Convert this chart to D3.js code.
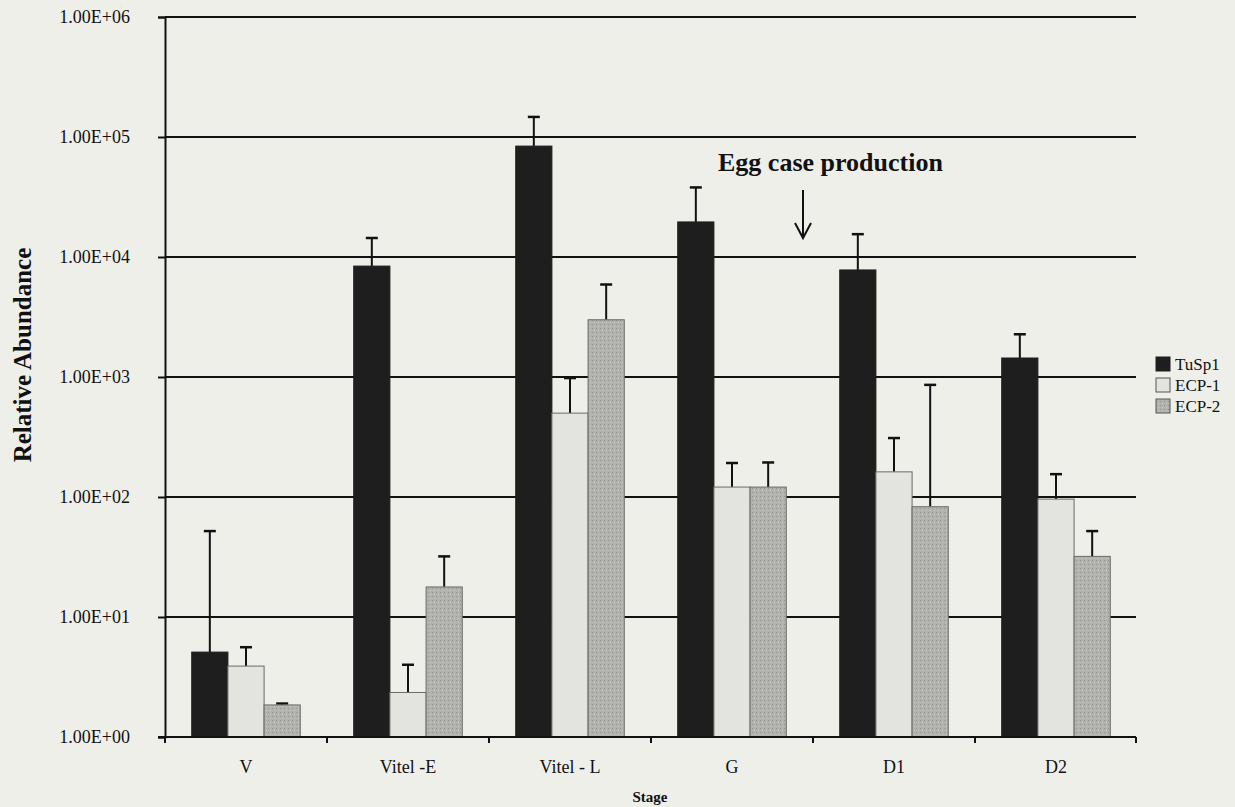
<!DOCTYPE html>
<meta charset="utf-8">
<title>Relative Abundance</title>
<style>
  body { margin: 0; background: #efefea; }
  svg { display: block; }
  text { font-family: "Liberation Serif", "Times New Roman", serif; fill: #111; }
</style>
<script src="https://d3js.org/d3.v7.min.js"></script>
<div id="chart"></div>
<script>
// stages along the x axis
var stages = ["V", "Vitel -E", "Vitel - L", "G", "D1", "D2"];
var seriesNames = ["TuSp1", "ECP-1", "ECP-2"];
// bar heights
var tusp1 = [5.1, 8400, 84000, 19600, 7800, 1440];
var ecp1 = [3.9, 2.35, 500, 121, 162, 96];
var ecp2 = [1.85, 17.8, 3000, 121, 83, 32];
// top of each error bar
var tusp1Err = [52, 14400, 147000, 38000, 15500, 2270];
var ecp1Err = [5.6, 4.0, 980, 192, 310, 155];
var ecp2Err = [1.9, 32, 5900, 194, 860, 52];
var yTicks = [1, 10, 100, 1000, 10000, 100000, 1000000];
var yTickLabels = ["1.00E+00", "1.00E+01", "1.00E+02", "1.00E+03", "1.00E+04", "1.00E+05", "1.00E+06"];

var colors = ["#1e1e1e", "#e3e3e0", "#b2b2ae"];

var W = 1235, H = 807;
var margin = {top: 17, right: 100, bottom: 70, left: 165};

var svg = d3.select("#chart").append("svg")
  .attr("width", W)
  .attr("height", H);

// stipple pattern for the ECP-2 bars
var defs = svg.append("defs");
var pat = defs.append("pattern")
  .attr("id", "stip")
  .attr("width", 4).attr("height", 4)
  .attr("patternUnits", "userSpaceOnUse");
pat.append("rect").attr("width", 4).attr("height", 4).attr("fill", colors[2]);
pat.append("rect").attr("x", 0).attr("y", 0).attr("width", 1).attr("height", 1).attr("fill", "#94948f");
pat.append("rect").attr("x", 2).attr("y", 2).attr("width", 1).attr("height", 1).attr("fill", "#c8c8c4");

var x = d3.scaleBand()
  .domain(stages)
  .range([margin.left, 1137])
  .paddingInner(0.33)
  .paddingOuter(0.165);

var xSub = d3.scaleBand()
  .domain(seriesNames)
  .range([0, x.bandwidth()]);

var y = d3.scaleLog()
  .domain([1, 1000000])
  .range([737, 17]);

// gridlines
svg.append("g")
  .selectAll("line")
  .data(yTicks.slice(1))
  .enter()
  .append("line")
    .attr("x1", margin.left)
    .attr("x2", 1136)
    .attr("y1", function(d) { return y(d); })
    .attr("y2", function(d) { return y(d); })
    .attr("stroke", "#111")
    .attr("stroke-width", 2);

// y axis
var yAxis = svg.append("g")
  .attr("transform", "translate(" + margin.left + ",0)")
  .call(d3.axisLeft(y)
    .tickValues(yTicks)
    .tickFormat(function(d, i) { return yTickLabels[i]; })
    .tickSize(7)
    .tickPadding(28));
yAxis.select(".domain").attr("stroke", "#111").attr("stroke-width", 2);
yAxis.selectAll(".tick line").attr("stroke", "#111").attr("stroke-width", 2)
  .attr("x2", -7).attr("x1", 1);
yAxis.selectAll("text")
  .style("font-size", "18px")
  .style("font-family", "Liberation Serif, serif")
  .attr("fill", "#111");

// bars
var series = [
  {name: seriesNames[0], vals: tusp1, err: tusp1Err},
  {name: seriesNames[1], vals: ecp1, err: ecp1Err},
  {name: seriesNames[2], vals: ecp2, err: ecp2Err}
];

series.forEach(function(s, si) {
  var g = svg.append("g");
  var rows = stages.map(function(st, i) { return {stage: st, v: s.vals[i], e: s.err[i]}; });

  // error bars first, upward only
  g.selectAll("line.err")
    .data(rows)
    .enter()
    .append("line")
      .attr("x1", function(d) { return x(d.stage) + xSub(s.name) + xSub.bandwidth() / 2; })
      .attr("x2", function(d) { return x(d.stage) + xSub(s.name) + xSub.bandwidth() / 2; })
      .attr("y1", function(d) { return y(d.v); })
      .attr("y2", function(d) { return y(d.e); })
      .attr("stroke", "#111")
      .attr("stroke-width", 2);
  g.selectAll("line.cap")
    .data(rows)
    .enter()
    .append("line")
      .attr("x1", function(d) { return x(d.stage) + xSub(s.name) + xSub.bandwidth() / 2 - 6; })
      .attr("x2", function(d) { return x(d.stage) + xSub(s.name) + xSub.bandwidth() / 2 + 6; })
      .attr("y1", function(d) { return y(d.e); })
      .attr("y2", function(d) { return y(d.e); })
      .attr("stroke", "#111")
      .attr("stroke-width", 2.5);

  g.selectAll("rect")
    .data(rows)
    .enter()
    .append("rect")
      .attr("x", function(d) { return x(d.stage) + xSub(s.name); })
      .attr("width", xSub.bandwidth())
      .attr("y", function(d) { return y(d.v); })
      .attr("height", function(d) { return y(1) - y(d.v); })
      .attr("fill", si == 2 ? "url(#stip)" : colors[si])
      .attr("stroke", si == 0 ? "#1e1e1e" : "#6a6a66")
      .attr("stroke-width", 1);
});

// x axis
var xAxis = svg.append("g")
  .attr("transform", "translate(0,737)");
xAxis.append("line")
  .attr("x1", margin.left - 7).attr("x2", 1136)
  .attr("y1", 0).attr("y2", 0)
  .attr("stroke", "#111").attr("stroke-width", 2);
var bounds = stages.map(function(d) { return x(d) - x.step() * x.paddingInner() / 2; });
bounds.push(1136);
xAxis.selectAll("line.tk")
  .data(bounds)
  .enter()
  .append("line")
    .attr("x1", function(d) { return d; })
    .attr("x2", function(d) { return d; })
    .attr("y1", 0).attr("y2", 6)
    .attr("stroke", "#111").attr("stroke-width", 2);
xAxis.selectAll("text")
  .data(stages)
  .enter()
  .append("text")
    .attr("x", function(d) { return x(d) + x.bandwidth() / 2; })
    .attr("y", 36)
    .attr("text-anchor", "middle")
    .style("font-size", "18px")
    .text(function(d) { return d; });

// axis titles
svg.append("text")
  .attr("x", 650).attr("y", 802)
  .attr("text-anchor", "middle")
  .style("font-size", "15px")
  .style("font-weight", "bold")
  .text("Stage");

svg.append("text")
  .attr("transform", "translate(31,355) rotate(-90)")
  .attr("text-anchor", "middle")
  .style("font-size", "25px")
  .style("font-weight", "bold")
  .text("Relative Abundance");

// annotation
svg.append("text")
  .attr("x", 718).attr("y", 171)
  .style("font-size", "26px")
  .style("font-weight", "bold")
  .text("Egg case production");
svg.append("line")
  .attr("x1", 803).attr("x2", 803)
  .attr("y1", 190).attr("y2", 236)
  .attr("stroke", "#111").attr("stroke-width", 2);
svg.append("path")
  .attr("d", "M795,223 L803,238 L811,223")
  .attr("fill", "none")
  .attr("stroke", "#111").attr("stroke-width", 2);

// legend
var legend = svg.append("g").attr("transform", "translate(1156,357)");
seriesNames.forEach(function(n, i) {
  legend.append("rect")
    .attr("x", 0).attr("y", i * 21)
    .attr("width", 14).attr("height", 14)
    .attr("fill", i == 2 ? "url(#stip)" : colors[i])
    .attr("stroke", i == 0 ? "#1e1e1e" : "#555")
    .attr("stroke-width", 1);
  legend.append("text")
    .attr("x", 19).attr("y", i * 21 + 13)
    .style("font-size", "17px")
    .text(n);
});
</script>
